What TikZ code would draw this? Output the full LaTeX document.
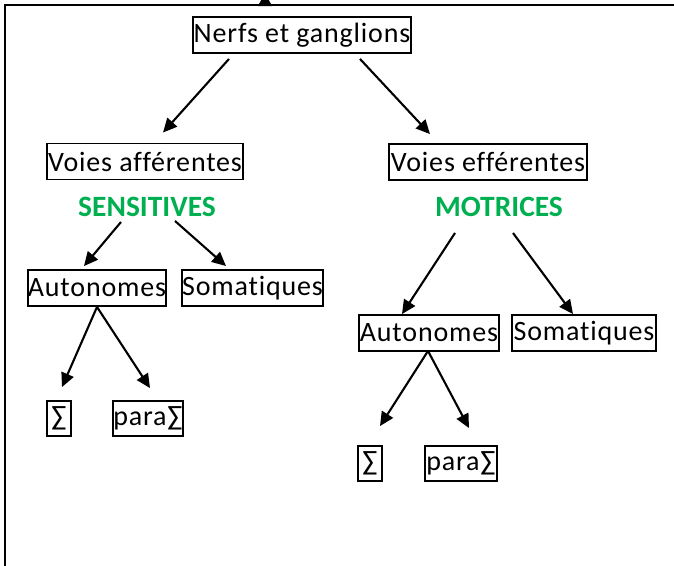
\documentclass[tikz,border=0pt]{standalone}
\usepackage{fontspec}
\setmainfont{Carlito}[Ligatures={NoCommon}]
\newfontfamily\boxfont{Carlito}[Ligatures={NoCommon},LetterSpace=3.0]
\usetikzlibrary{arrows.meta,calc}
\definecolor{officegreen}{HTML}{00B050}
\begin{document}
\begin{tikzpicture}[x=1pt,y=-1pt,
  box/.style={draw, line width=1.9pt, inner sep=0pt, minimum height=36pt,
    font=\boxfont\fontsize{28}{30}\selectfont},
  lab/.style={text=officegreen, inner sep=0pt, font=\fontsize{29.5}{32}\selectfont\bfseries},
  arr/.style={line width=2.1pt, -{Triangle[length=14pt,width=13pt]}},
  frame/.style={line width=2.2pt}]
\useasboundingbox (0,0) rectangle (674,565);
\draw[frame] (5,570) -- (5,5) -- (680,5);
\coordinate (topmark) at (265,5);
\fill ($(topmark)+(-7,1)$) -- ($(topmark)+(7,1)$) -- ($(topmark)+(0,-12)$) -- cycle;

\node[box, minimum width=218pt] (nerfs) at (302,35) {Nerfs et ganglions};
\node[box, minimum width=196pt] (aff) at (145,161.5) {Voies afférentes};
\node[box, minimum width=198pt] (eff) at (488,162) {Voies efférentes};
\node[lab] (sens) at (147,207) {SENSITIVES};
\node[lab] (mot) at (499,207) {MOTRICES};
\node[box, minimum width=138pt] (autoL) at (97,288) {Autonomes};
\node[box, minimum width=141pt] (somL) at (252.5,288) {Somatiques};
\node[box, minimum width=140pt] (autoR) at (429,333) {Autonomes};
\node[box, minimum width=144pt] (somR) at (584,333) {Somatiques};
\node[box, minimum width=24pt, minimum height=35pt] (sigL) at (59,418.5) {∑};
\node[box, minimum width=70pt, minimum height=35pt] (paraL) at (148,418.5) {para∑};
\node[box, minimum width=24pt, minimum height=35pt] (sigR) at (370,463.5) {∑};
\node[box, minimum width=72pt, minimum height=35pt] (paraR) at (461,463.5) {para∑};

\draw[arr] ($(nerfs.south)+(-73,5)$) -- ($(aff.north)+(18,-10)$);
\draw[arr] ($(nerfs.south)+(58,5)$) -- ($(eff.north)+(-58,-9)$);
\draw[arr] ($(sens.south)+(-26,5)$) -- ($(autoL.north)+(-13,-3)$);
\draw[arr] ($(sens.south)+(28,4)$) -- ($(somL.north)+(-26.5,-3)$);
\draw[arr] (autoL.south) -- ($(sigL.north)+(3,-13)$);
\draw[arr] (autoL.south) -- ($(paraL.north)+(2,-12)$);
\draw[arr] ($(mot.south)+(-44,16)$) -- ($(autoR.north)+(-27,0)$);
\draw[arr] ($(mot.south)+(14,16)$) -- ($(somR.north)+(-11,0)$);
\draw[arr] ($(autoR.south)+(-1,-1)$) -- ($(sigR.north)+(10,-19)$);
\draw[arr] ($(autoR.south)+(-1,-1)$) -- ($(paraR.north)+(8,-17)$);
\end{tikzpicture}
\end{document}
